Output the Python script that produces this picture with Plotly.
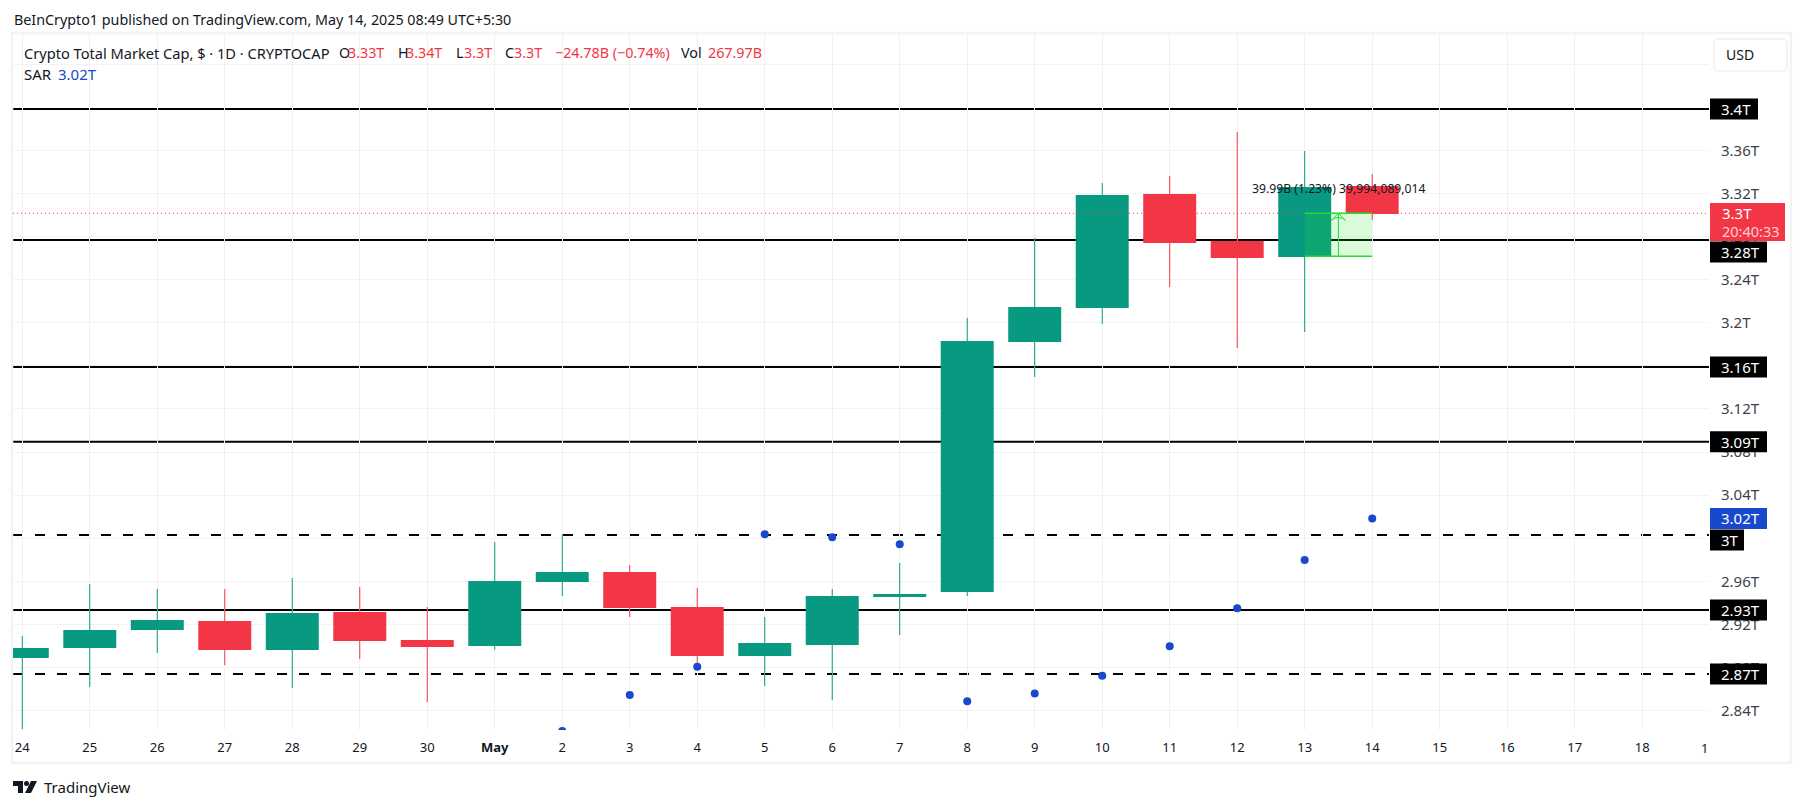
import plotly.graph_objects as go

# chart values, in trillions of USD
x_labels = ["24", "25", "26", "27", "28", "29", "30", "<b>May</b>", "2", "3", "4", "5", "6", "7",
            "8", "9", "10", "11", "12", "13", "14", "15", "16", "17", "18"]
open_ = [2.8887, 2.8980, 2.9147, 2.9231, 2.8962, 2.9315, 2.9055, 2.8999, 2.9593, 2.9686, 2.9361,
         2.8906, 2.9008, 2.9454, 2.9500, 3.1822, 3.2137, 3.3196, 3.2760, 3.2611, 3.3270]
high = [2.9092, 2.9575, 2.9528, 2.9528, 2.9630, 2.9547, 2.9361, 2.9965, 3.0039, 2.9751, 2.9538,
        2.9268, 2.9528, 2.9770, 3.2045, 3.2788, 3.3298, 3.3363, 3.3772, 3.3595, 3.3382]
low = [2.8228, 2.8618, 2.8934, 2.8822, 2.8609, 2.8878, 2.8479, 2.8962, 2.9463, 2.9268, 2.8804,
       2.8627, 2.8497, 2.9101, 2.9463, 3.1497, 3.1989, 3.2332, 3.1766, 3.1915, 3.2955]
close = [2.8980, 2.9147, 2.9240, 2.8962, 2.9305, 2.9045, 2.8990, 2.9603, 2.9686, 2.9352, 2.8906,
         2.9027, 2.9463, 2.9481, 3.1831, 3.2147, 3.3187, 3.2741, 3.2602, 3.3261, 3.3010]

sar_days = [8, 9, 10, 11, 12, 13, 14, 15, 16, 17, 18, 19, 20]
sar = [2.8210, 2.8544, 2.8807, 3.0036, 3.0008, 2.9943, 2.8485, 2.8559, 2.8723, 2.8996, 2.9349,
       2.9798, 3.0183]

level_values = [3.3985, 3.2769, 3.159, 3.0896, 3.003, 2.9333, 2.8739]
level_labels = ["3.4T", "3.28T", "3.16T", "3.09T", "3T", "2.93T", "2.87T"]
level_dashed = [False, False, False, False, True, False, True]

y_ticks = [3.44, 3.36, 3.32, 3.28, 3.24, 3.2, 3.16, 3.12, 3.08, 3.04, 3.0, 2.96, 2.92, 2.88, 2.84]
y_labels = ["", "3.36T", "3.32T", "3.28T", "3.24T", "3.2T", "3.16T", "3.12T", "3.08T", "3.04T",
            "3T", "2.96T", "2.92T", "2.88T", "2.84T"]

last_price = 3.3017
measure_low = 3.2617
measure_high = 3.3017
measure_days = [19, 20]

W, H = 1804, 809
green = "#089981"
red = "#F23645"
blue = "#1848CC"
ink = "#131722"
font = "Noto Sans"


def px(x):
    return x / W


def py(y):
    return 1 - y / H


days = list(range(len(open_)))
colors = [green if c >= o else red for o, c in zip(open_, close)]

fig = go.Figure()

# candle bodies as floating bars, plotly's own candlestick body is too narrow here
fig.add_trace(go.Bar(x=days, y=[abs(c - o) for o, c in zip(open_, close)],
                     base=[min(o, c) for o, c in zip(open_, close)],
                     width=0.785, marker=dict(color=colors, line_width=0), showlegend=False))

# wicks
for col in [green, red]:
    wick_x, wick_y = [], []
    for d, h, l, c in zip(days, high, low, colors):
        if c == col:
            wick_x += [d, d, None]
            wick_y += [l, h, None]
    fig.add_trace(go.Scatter(x=wick_x, y=wick_y, mode="lines", line=dict(color=col, width=1), showlegend=False))

fig.add_trace(go.Scatter(x=sar_days, y=sar, mode="markers", showlegend=False,
                         marker=dict(color=blue, size=8)))

# measure tool arrow
fig.add_trace(go.Scatter(x=[sum(measure_days) / 2] * 2, y=[measure_low, measure_high], mode="lines",
                         line=dict(color="#22dd33", width=1), showlegend=False))
fig.add_trace(go.Scatter(x=[sum(measure_days) / 2], y=[measure_high], mode="markers", showlegend=False,
                         marker=dict(symbol="arrow-wide-open", size=10, color="#22dd33",
                                     line=dict(color="#22dd33", width=1))))

fig.update_layout(
    width=W, height=H, margin=dict(l=0, r=0, t=0, b=0),
    paper_bgcolor="white", plot_bgcolor="white",
    font=dict(family=font, size=13, color=ink),
    xaxis=dict(domain=[px(13), px(1709)], range=[-0.1376, 24.99],
               tickmode="array", tickvals=list(range(len(x_labels))), ticktext=x_labels,
               showgrid=True, gridcolor="#f1f1f4", gridwidth=1, zeroline=False, showline=False,
               ticks="", ticklabelstandoff=8, tickfont=dict(size=13, color=ink)),
    yaxis=dict(domain=[py(730), py(33)], range=[2.8219, 3.4691], side="right",
               tickmode="array", tickvals=y_ticks, ticktext=y_labels,
               showgrid=True, gridcolor="#f3f3f3", gridwidth=1, zeroline=False, showline=False,
               ticks="", ticklabelstandoff=11, tickfont=dict(size=15, color="#3c3f4a")),
)

# horizontal levels sit under the candles
for val, dashed in zip(level_values, level_dashed):
    fig.add_hline(y=val, layer="below",
                  line=dict(color="black", width=2, dash="10px,12px" if dashed else "solid"))

fig.add_hline(y=last_price, layer="above", line=dict(color=red, width=1, dash="1px,3px"))

fig.add_shape(type="rect", xref="x", yref="y", x0=measure_days[0], x1=measure_days[1],
              y0=measure_low, y1=measure_high, fillcolor="rgba(40,230,40,0.17)", line_width=0, layer="above")
for val in [measure_low, measure_high]:
    fig.add_shape(type="line", xref="x", yref="y", x0=measure_days[0], x1=measure_days[1], y0=val, y1=val,
                  line=dict(color="#22dd33", width=1.5), layer="above")

# panel frame and USD button
fig.add_shape(type="rect", xref="paper", yref="paper", x0=px(12), x1=px(1791), y0=py(763), y1=py(33),
              line=dict(color="#f3f3f3", width=2.5), layer="below")
fig.add_shape(type="path", xref="paper", yref="paper", layer="above", line=dict(color="#f0f1f4", width=1.5),
              path=f"M{px(1718)},{py(39)} L{px(1782)},{py(39)} Q{px(1787)},{py(39)} {px(1787)},{py(44)} "
                   f"L{px(1787)},{py(66)} Q{px(1787)},{py(71)} {px(1782)},{py(71)} L{px(1718)},{py(71)} "
                   f"Q{px(1714)},{py(71)} {px(1714)},{py(66)} L{px(1714)},{py(44)} Q{px(1714)},{py(39)} {px(1718)},{py(39)} Z")


def label(text, x, y, color=ink, size=15, anchor="left"):
    fig.add_annotation(text=text, x=px(x), y=py(y), xref="paper", yref="paper", xanchor=anchor,
                       yanchor="middle", showarrow=False, align="left",
                       font=dict(family=font, size=size, color=color))


def tag(text, y, width, fill="black", nudge=0):
    fig.add_shape(type="rect", xref="paper", yref="y", ysizemode="pixel", yanchor=y,
                  x0=px(1710), x1=px(1710 + width), y0=-10.5 - nudge, y1=10.5 - nudge,
                  fillcolor=fill, line_width=0, layer="above")
    fig.add_annotation(text=text, x=px(1719), y=y, yshift=-nudge, xref="paper", yref="y", xanchor="left",
                       yanchor="middle", showarrow=False, font=dict(family=font, size=15, color="white"))


# labels on the price scale
nudges = {"3.28T": 12, "3T": 5}
for val, text in zip(level_values, level_labels):
    width = {4: 48, 5: 57, 2: 34}[len(text)]
    tag(text, val, width, nudge=nudges.get(text, 0))
tag("3.02T", sar[-1], 57, fill=blue)

fig.add_shape(type="rect", xref="paper", yref="paper", x0=px(1710), x1=px(1785), y0=py(241), y1=py(203),
              fillcolor=red, line_width=0, layer="above")
label("3.3T", 1720, 213, color="white")
label("20:40:33", 1720, 231, color="#fdd0d5", size=14.5)
label("USD", 1724, 55, size=14)

# header
label("BeInCrypto1 published on TradingView.com, May 14, 2025 08:49 UTC+5:30", 12, 20, size=14.3)
label("Crypto Total Market Cap, $ · 1D · CRYPTOCAP", 22, 53, size=14.6)
for text, x, color in [("O", 337, ink), ("3.33T", 346, red), ("H", 396, ink), ("3.34T", 404, red),
                       ("L", 454, ink), ("3.3T", 462, red), ("C", 503, ink), ("3.3T", 512, red),
                       ("−24.78B (−0.74%)", 553, red), ("Vol", 679, ink), ("267.97B", 706, red)]:
    label(text, x, 53, color=color, size=14.3)
label("SAR", 22, 74)
label("3.02T", 56, 74, color=blue)

# measure readout, and the "1" that TradingView squeezes at the right end of the time scale
label("39.99B (1.23%) 39,994,089,014", 1250, 188, size=12.2)
label("1", 1704, 748, size=13, anchor="center")

# logo
logo = [f"M{px(13)},{py(781)} L{px(23)},{py(781)} L{px(23)},{py(793)} L{px(18)},{py(793)} L{px(18)},{py(786)} L{px(13)},{py(786)} Z",
        f"M{px(31)},{py(781)} L{px(37)},{py(781)} L{px(31)},{py(793)} L{px(25)},{py(793)} Z"]
for path in logo:
    fig.add_shape(type="path", xref="paper", yref="paper", path=path, fillcolor="#131722", line_width=0)
fig.add_shape(type="circle", xref="paper", yref="paper", x0=px(24), x1=px(29), y0=py(786), y1=py(781),
              fillcolor="#131722", line_width=0)
label("TradingView", 42, 787)

fig.write_html("out.html", config={"displayModeBar": False},
               post_script="document.body.style.margin='0';document.body.style.overflow='hidden';")
